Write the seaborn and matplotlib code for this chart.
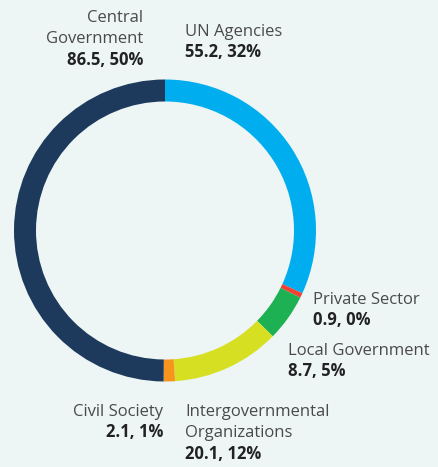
import matplotlib
matplotlib.use("Agg")
import matplotlib.pyplot as plt
import seaborn as sns

categories = ["UN Agencies", "Private Sector", "Local Government",
              "Intergovernmental Organizations", "Civil Society", "Central Government"]
values = [55.2, 0.9, 8.7, 20.1, 2.1, 86.5]
percents = ["32%", "0%", "5%", "12%", "1%", "50%"]
colors = ["#00AEEF", "#EF4136", "#1DB154", "#D7DF23", "#F7941D", "#1D3A5C"]

sns.set_theme(style="white")
plt.rcParams['font.family'] = ['Open Sans', 'DejaVu Sans']

W, H = 439, 467
bg = "#EDF5F5"
fig = plt.figure(figsize=(W / 100, H / 100), dpi=100, facecolor=bg)
ax = fig.add_axes([0, 0, 1, 1])
ax.set_facecolor(bg)
ax.axis('off')

ax.pie(values, colors=colors, startangle=90, counterclock=False,
       center=(165, H - 230.5), radius=151,
       wedgeprops=dict(width=22, linewidth=0))
ax.set_xlim(0, W)
ax.set_ylim(0, H)
ax.set_aspect('equal')

name_col = "#4a4a4a"
val_col = "#222222"
fs = 12

def label(x, y, lines, value_line, ha):
    yy = y
    for ln in lines:
        ax.text(x, H - yy, ln, ha=ha, va='baseline', fontsize=fs, color=name_col)
        yy += 21.3
    ax.text(x, H - yy, value_line, ha=ha, va='baseline', fontsize=fs,
            color=val_col, fontweight='bold')

def vstr(i):
    return f"{values[i]}, {percents[i]}"

label(143, 22, ["Central", "Government"], vstr(5), 'right')
label(185, 36, ["UN Agencies"], vstr(0), 'left')
label(313, 304, ["Private Sector"], vstr(1), 'left')
label(288, 355, ["Local Government"], vstr(2), 'left')
label(163, 416, ["Civil Society"], vstr(4), 'right')
label(185, 416, ["Intergovernmental", "Organizations"], vstr(3), 'left')

fig.savefig("out.png", dpi=100, facecolor=bg)
